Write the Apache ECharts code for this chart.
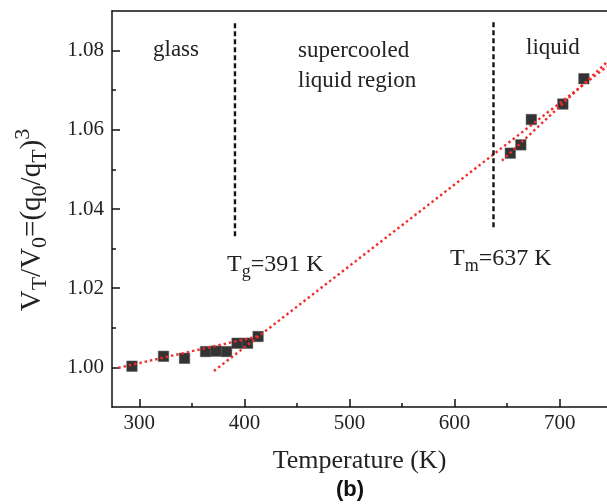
<!DOCTYPE html>
<html>
<head>
<meta charset="utf-8">
<script src="https://cdn.jsdelivr.net/npm/echarts@6/dist/echarts.min.js"></script>
<style>
  html, body { margin: 0; padding: 0; background: #fff; }
  #chart { width: 607px; height: 504px; }
</style>
</head>
<body>
<div id="chart"></div>
<script>
// Measured relative volume vs. temperature
const temperatures = [293, 323, 343, 363, 373, 383, 393, 403, 413, 653, 663, 673, 703, 723];
const volumeRatio  = [1.0003, 1.0028, 1.0023, 1.0040, 1.0041, 1.0040, 1.0061, 1.0061, 1.0078,
                      1.0541, 1.0562, 1.0626, 1.0665, 1.0729];

// Linear fits (end points) for the three regions
const glassFit       = [[280, 0.9999], [414, 1.0079]];
const supercooledFit = [[371, 0.9991], [745, 1.0760]];
const liquidFit      = [[645, 1.0522], [745, 1.0771]];

// Glass transition and melting temperatures (vertical markers)
const tgLine = [[391, 1.0331], [391, 1.0870]];
const tmLine = [[637, 1.0354], [637, 1.0875]];

// Axis ticks
const xMajorTicks = [300, 400, 500, 600, 700];
const xMinorTicks = [350, 450, 550, 650];
const yMajorTicks = [1.00, 1.02, 1.04, 1.06, 1.08];
const yMinorTicks = [1.01, 1.03, 1.05, 1.07];

const SERIF = '"Liberation Serif", "Times New Roman", serif';
const points = temperatures.map((t, i) => [t, volumeRatio[i]]);

const chart = echarts.init(document.getElementById('chart'), null, { renderer: 'canvas' });

const axisLineStyle = { color: '#111', width: 1.5 };

const fitStyle = { color: '#f22a2a', width: 2.4, type: [2.4, 3] };
const markerStyle = { color: '#111', width: 2.4, type: [5, 3] };

chart.setOption({
  backgroundColor: '#fff',
  animation: false,
  grid: { left: 112, top: 11, right: 0, bottom: 97, containLabel: false },
  xAxis: [
    {
      type: 'value', min: 274, max: 745, position: 'bottom',
      axisLine: { show: true, lineStyle: axisLineStyle },
      axisTick: { show: true, inside: true, length: 8, lineStyle: { color: '#111', width: 1.5 }, customValues: xMajorTicks },
      axisLabel: { show: true, customValues: xMajorTicks, fontFamily: SERIF, fontSize: 21, color: '#222', margin: 6 },
      splitLine: { show: false },
      name: 'Temperature (K)', nameLocation: 'middle', nameGap: 41,
      nameTextStyle: { fontFamily: SERIF, fontSize: 26, color: '#222' }
    },
    {
      type: 'value', min: 274, max: 745, position: 'bottom',
      axisLine: { show: false },
      axisTick: { show: true, inside: true, length: 4, lineStyle: { color: '#111', width: 1.5 }, customValues: xMinorTicks },
      axisLabel: { show: false },
      splitLine: { show: false }
    },
    {
      type: 'value', min: 274, max: 745, position: 'top',
      axisLine: { show: true, lineStyle: axisLineStyle },
      axisTick: { show: false }, axisLabel: { show: false }, splitLine: { show: false }
    }
  ],
  yAxis: [
    {
      type: 'value', min: 0.99, max: 1.09, position: 'left',
      axisLine: { show: true, lineStyle: axisLineStyle },
      axisTick: { show: true, inside: true, length: 8, lineStyle: { color: '#111', width: 1.5 }, customValues: yMajorTicks },
      axisLabel: {
        show: true, customValues: yMajorTicks, fontFamily: SERIF, fontSize: 21, color: '#222', margin: 8,
        formatter: v => v.toFixed(2)
      },
      splitLine: { show: false }
    },
    {
      type: 'value', min: 0.99, max: 1.09, position: 'left',
      axisLine: { show: false },
      axisTick: { show: true, inside: true, length: 4, lineStyle: { color: '#111', width: 1.5 }, customValues: yMinorTicks },
      axisLabel: { show: false },
      splitLine: { show: false }
    }
  ],
  series: [
    {
      type: 'scatter', data: points, symbol: 'rect', symbolSize: 10.5, z: 2,
      itemStyle: { color: '#000', borderColor: '#555', borderWidth: 0.6 }
    },
    { type: 'line', data: glassFit, symbol: 'none', lineStyle: fitStyle, z: 3, silent: true },
    { type: 'line', data: supercooledFit, symbol: 'none', lineStyle: fitStyle, z: 3, silent: true },
    { type: 'line', data: liquidFit, symbol: 'none', lineStyle: fitStyle, z: 3, silent: true },
    { type: 'line', data: tgLine, symbol: 'none', lineStyle: markerStyle, z: 3, silent: true },
    { type: 'line', data: tmLine, symbol: 'none', lineStyle: markerStyle, z: 3, silent: true }
  ],
  graphic: [
    { type: 'text', left: 153, top: 38, style: { text: 'glass', font: '23px ' + SERIF, fill: '#222' } },
    { type: 'text', left: 298, top: 36, style: { text: 'supercooled\nliquid region', font: '23px ' + SERIF, fill: '#222', lineHeight: 30 } },
    { type: 'text', left: 526, top: 36, style: { text: 'liquid', font: '23px ' + SERIF, fill: '#222' } },
    {
      type: 'text', left: 227, top: 253,
      style: {
        text: '{m|T}{s|g}{m|=391 K}', fill: '#222',
        rich: {
          m: { fontFamily: SERIF, fontSize: 24, fill: '#222' },
          s: { fontFamily: SERIF, fontSize: 18, fill: '#222', padding: [14, 0, 0, 0] }
        }
      }
    },
    {
      type: 'text', left: 450, top: 247,
      style: {
        text: '{m|T}{s|m}{m|=637 K}', fill: '#222',
        rich: {
          m: { fontFamily: SERIF, fontSize: 24, fill: '#222' },
          s: { fontFamily: SERIF, fontSize: 18, fill: '#222', padding: [14, 0, 0, 0] }
        }
      }
    },
    {
      type: 'text', x: 32, y: 220, rotation: Math.PI / 2,
      style: {
        text: '{m|V}{s|T}{m|/V}{s|0}{m|=(q}{s|0}{m|/q}{s|T}{m|)}{u|3}',
        align: 'center', verticalAlign: 'middle',
        rich: {
          m: { fontFamily: SERIF, fontSize: 29, fill: '#222' },
          s: { fontFamily: SERIF, fontSize: 22, fill: '#222', padding: [16, 0, 0, 0] },
          u: { fontFamily: SERIF, fontSize: 22, fill: '#222', padding: [0, 0, 18, 0] }
        }
      }
    },
    {
      type: 'text', x: 350, y: 490,
      style: { text: '(b)', font: 'bold 22px "Liberation Sans", Arial, sans-serif', fill: '#111', align: 'center', verticalAlign: 'middle' }
    }
  ]
});
</script>
</body>
</html>
